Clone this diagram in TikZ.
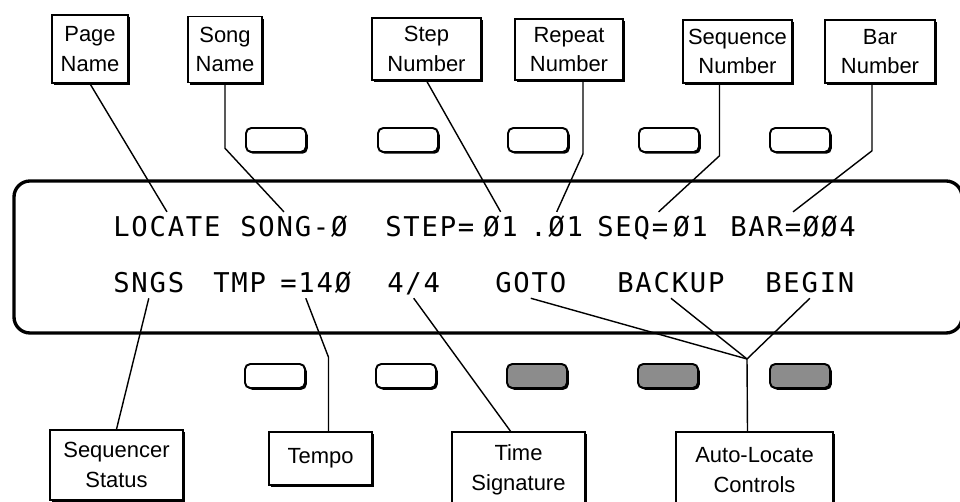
\documentclass[tikz,border=0pt]{standalone}
\usepackage{fontspec}
\setmainfont{Liberation Sans}
\newfontfamily\lcdfont[LetterSpace=6.5]{DejaVu Sans Mono}
\usepackage{tikz}
\usetikzlibrary{shadows}

\begin{document}
\begin{tikzpicture}[x=0.02cm, y=-0.02cm,
    lbl/.style={rectangle, draw, line width=0.9pt, fill=white, align=center, inner sep=0pt,
                font=\fontsize{12.5}{17}\selectfont,
                drop shadow={shadow xshift=1.3pt, shadow yshift=-1.3pt, fill=black, opacity=1}},
    softkey/.style={rectangle, draw, line width=1.1pt, rounded corners=3pt, fill=white,
                    minimum width=1.2cm, minimum height=0.48cm, inner sep=0pt,
                    drop shadow={shadow xshift=1pt, shadow yshift=-1pt, fill=black, opacity=1}},
    softkeyon/.style={softkey, fill=black!45},
    lcd/.style={anchor=base west, inner sep=0pt, outer ysep=3pt,
                text height=11.3pt, text depth=0pt,
                font=\lcdfont\fontsize{15.5}{18}\selectfont},
    lead/.style={line width=0.8pt}
]
\clip (0,0) rectangle (960,502);

% display panel and soft keys
\draw[line width=1.9pt, rounded corners=0.32cm] (14,181) rectangle (962,333);
\foreach \kx [count=\i] in {276,408,538,669,800}
  \node[softkey] (keyup\i) at (\kx,140) {};
\foreach \kx/\ks [count=\i] in {275/softkey,406/softkey,537/softkeyon,668/softkeyon,800/softkeyon}
  \node[\ks] (keydn\i) at (\kx,376) {};

% screen text
\node[lcd] (locate) at (113,237) {LOCATE};
\node[lcd] (song)   at (240,237) {SONG-Ø};
\node[lcd] (step)   at (385,237) {STEP=};
\node[lcd] (stepno) at (483,237) {Ø1};
\node[lcd] (repno)  at (530,237) {.Ø1};
\node[lcd] (seq)    at (597,237) {SEQ=};
\node[lcd] (seqno)  at (673,237) {Ø1};
\node[lcd] (bar)    at (730,237) {BAR=ØØ4};

\node[lcd] (sngs)   at (113,293) {SNGS};
\node[lcd] (tmp)    at (213,293) {TMP};
\node[lcd] (tmpno)  at (280,293) {=14Ø};
\node[lcd] (sig)    at (387,293) {4/4};
\node[lcd] (goto)   at (495,293) {GOTO};
\node[lcd] (backup) at (617,293) {BACKUP};
\node[lcd] (begin)  at (765,293) {BEGIN};

% callout boxes
\node[lbl, minimum width=1.52cm, minimum height=1.36cm] (pagebox) at (90,49)    {Page\\Name};
\node[lbl, minimum width=1.48cm, minimum height=1.32cm] (songbox) at (225,49.5)  {Song\\Name};
\node[lbl, minimum width=2.18cm, minimum height=1.24cm] (stepbox) at (426.5,49)  {Step\\Number};
\node[lbl, minimum width=2.16cm, minimum height=1.22cm] (repbox)  at (569,49.5)  {Repeat\\Number};
\node[lbl, minimum width=2.18cm, minimum height=1.26cm] (seqbox)  at (737.5,51.5) {Sequence\\Number};
\node[lbl, minimum width=2.2cm,  minimum height=1.26cm] (barbox)  at (880,51.5)  {Bar\\Number};

\node[lbl, minimum width=2.66cm, minimum height=1.4cm]  (statbox)  at (116.5,465) {Sequencer\\Status};
\node[lbl, minimum width=2.06cm, minimum height=1.06cm] (tempobox) at (320.5,458.5) {Tempo};
\node[lbl, minimum width=2.66cm, minimum height=1.52cm] (sigbox)   at (518.5,470) {Time\\Signature};
\node[lbl, minimum width=3.14cm, minimum height=1.52cm] (autobox)  at (754.5,470) {Auto-Locate\\Controls};

% leader lines
\draw[lead] (pagebox.south) -- (locate.north);
\draw[lead] (songbox.south) -- ++(0,65) -- ([xshift=-0.2cm]song.north);
\draw[lead] (stepbox.south) -- (stepno.north);
\draw[lead] ([xshift=0.28cm]repbox.south) -- ++(0,73) -- (repno.north);
\draw[lead] ([xshift=-0.36cm]seqbox.south) -- ++(0,72) -- ([xshift=-0.2cm]seq.north east);
\draw[lead] ([xshift=-0.16cm]barbox.south) -- ++(0,67) -- (bar.north);

\draw[lead] (statbox.north) -- (sngs.south);
\draw[lead] ([xshift=0.16cm]tempobox.north) -- ++(0,-74) -- ([xshift=-0.2cm]tmpno.south);
\draw[lead] ([xshift=-0.16cm]sigbox.north) -- (sig.south);
\coordinate (ajoin) at (747,359);
\draw[lead] ([xshift=-0.14cm]autobox.north) -- (ajoin);
\foreach \t in {goto,backup,begin}
  \draw[lead] (ajoin) -- (\t.south);
\end{tikzpicture}
\end{document}
